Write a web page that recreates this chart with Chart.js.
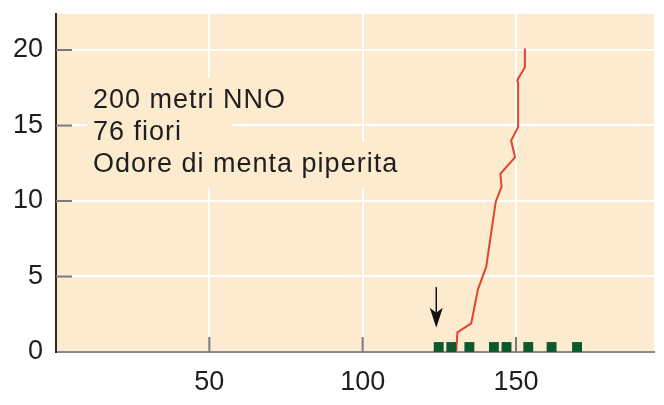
<!DOCTYPE html>
<html>
<head>
<meta charset="utf-8">
<script src="https://cdn.jsdelivr.net/npm/chart.js@4"></script>
<style>
  html, body { margin: 0; padding: 0; background: #fff; }
  canvas { display: block; }
</style>
</head>
<body>
<canvas id="flowerChart" width="664" height="405"></canvas>
<script>
// Cumulative curve (red line)
const curveX = [130.5, 130.9, 135.4, 137.6, 140.3, 141.4, 143.4, 145.3, 144.9, 149.7, 148.4, 150.7, 150.7, 150.4, 152.9, 152.9];
const curveY = [0, 1.3, 1.9, 4.15, 5.65, 7.2, 9.95, 10.95, 11.8, 12.9, 14.0, 14.9, 17.8, 18.0, 18.85, 20.1];

// Green markers along the bottom
const markerX = [124.8, 128.9, 134.8, 142.8, 146.9, 154.0, 161.6, 169.9];
const markerY = [0.33, 0.33, 0.33, 0.33, 0.33, 0.33, 0.33, 0.33];

// Arrow pointing at the first marker
const arrowX = 124;
const arrowFrom = 4.3;
const arrowTo = 1.6;

const xTicks = [50, 100, 150];
const yTicks = [0, 5, 10, 15, 20];

const infoLines = ['200 metri NNO', '76 fiori', 'Odore di menta piperita'];

const FONT = '"Liberation Sans", Arial, Helvetica, sans-serif';
const PEACH = '#fdebcf';

// peach plot background, white grid goes on top of it
const backgroundPlugin = {
  id: 'plotBackground',
  beforeInit(chart) {
    chart.ctx.letterSpacing = '1px';
  },
  beforeDraw(chart) {
    const { ctx, chartArea } = chart;
    ctx.save();
    ctx.fillStyle = PEACH;
    ctx.fillRect(chartArea.left, chartArea.top, chartArea.right - chartArea.left, chartArea.bottom - chartArea.top);
    ctx.restore();
  }
};

// small inward tick marks, the text block and the arrow
const overlayPlugin = {
  id: 'overlay',
  beforeDatasetsDraw(chart) {
    const { ctx, chartArea, scales } = chart;
    ctx.save();

    // text with its own background patches
    ctx.font = '27px ' + FONT;
    ctx.letterSpacing = '1px';
    ctx.textBaseline = 'alphabetic';
    ctx.textAlign = 'left';
    const textLeft = chartArea.left + 37;
    const firstBase = chartArea.top + 94;
    infoLines.forEach((line, i) => {
      const base = firstBase + i * 32;
      const w = ctx.measureText(line).width;
      ctx.fillStyle = PEACH;
      ctx.fillRect(textLeft - 6, base - 30, w + 56, 46);
    });
    ctx.fillStyle = '#1f1f1f';
    infoLines.forEach((line, i) => {
      ctx.fillText(line, textLeft, firstBase + i * 32);
    });

    // tick marks pointing into the plot
    ctx.strokeStyle = '#7a7a7a';
    ctx.lineWidth = 2;
    ctx.beginPath();
    yTicks.forEach(v => {
      if (v === 0) return;
      const py = scales.y.getPixelForValue(v);
      ctx.moveTo(chartArea.left, py);
      ctx.lineTo(chartArea.left + 16, py);
    });
    xTicks.forEach(v => {
      const px = scales.x.getPixelForValue(v);
      ctx.moveTo(px, chartArea.bottom);
      ctx.lineTo(px, chartArea.bottom - 15);
    });
    ctx.stroke();

    // arrow
    const ax = scales.x.getPixelForValue(arrowX);
    const ay0 = scales.y.getPixelForValue(arrowFrom);
    const ay1 = scales.y.getPixelForValue(arrowTo);
    ctx.strokeStyle = '#111';
    ctx.fillStyle = '#111';
    ctx.lineWidth = 1.5;
    ctx.beginPath();
    ctx.moveTo(ax, ay0);
    ctx.lineTo(ax, ay1 - 14);
    ctx.stroke();
    ctx.beginPath();
    ctx.moveTo(ax, ay1);
    ctx.lineTo(ax - 6.5, ay1 - 20);
    ctx.lineTo(ax, ay1 - 15);
    ctx.lineTo(ax + 6.5, ay1 - 20);
    ctx.closePath();
    ctx.fill();

    ctx.restore();
  }
};

const ctx = document.getElementById('flowerChart').getContext('2d');

new Chart(ctx, {
  type: 'scatter',
  data: {
    datasets: [
      {
        label: 'cumulativo',
        data: curveX.map((x, i) => ({ x: x, y: curveY[i] })),
        showLine: true,
        borderColor: '#e2452f',
        borderWidth: 2,
        pointRadius: 0,
        tension: 0,
        order: 2
      },
      {
        label: 'fiori',
        data: markerX.map((x, i) => ({ x: x, y: markerY[i] })),
        pointStyle: 'rect',
        pointRadius: 7,
        pointBackgroundColor: '#0b5a2c',
        pointBorderWidth: 0,
        order: 1
      }
    ]
  },
  options: {
    responsive: false,
    devicePixelRatio: 1,
    animation: false,
    layout: { padding: { top: 14, right: 10, left: 0, bottom: 0 } },
    plugins: {
      legend: { display: false },
      tooltip: { enabled: false }
    },
    scales: {
      x: {
        type: 'linear',
        min: 0,
        max: 195,
        afterFit(scale) {
          scale.height = 53;
          scale.paddingLeft = 0;
          scale.paddingRight = 0;
        },
        afterBuildTicks(scale) { scale.ticks = xTicks.map(v => ({ value: v })); },
        grid: { color: '#ffffff', lineWidth: 2, drawTicks: false },
        border: { display: true, color: '#8a8a8a', width: 2 },
        ticks: {
          padding: 14,
          color: '#1e1e1e',
          font: { family: FONT, size: 27 },
          maxRotation: 0
        }
      },
      y: {
        type: 'linear',
        min: 0,
        max: 22.38,
        afterFit(scale) {
          scale.width = 56;
          scale.paddingTop = 0;
          scale.paddingBottom = 0;
        },
        afterBuildTicks(scale) { scale.ticks = yTicks.map(v => ({ value: v })); },
        grid: { color: '#ffffff', lineWidth: 2, drawTicks: false },
        border: { display: true, color: '#2a2a2a', width: 2 },
        ticks: {
          padding: 13,
          color: '#1e1e1e',
          font: { family: FONT, size: 27 }
        }
      }
    }
  },
  plugins: [backgroundPlugin, overlayPlugin]
});
</script>
</body>
</html>
